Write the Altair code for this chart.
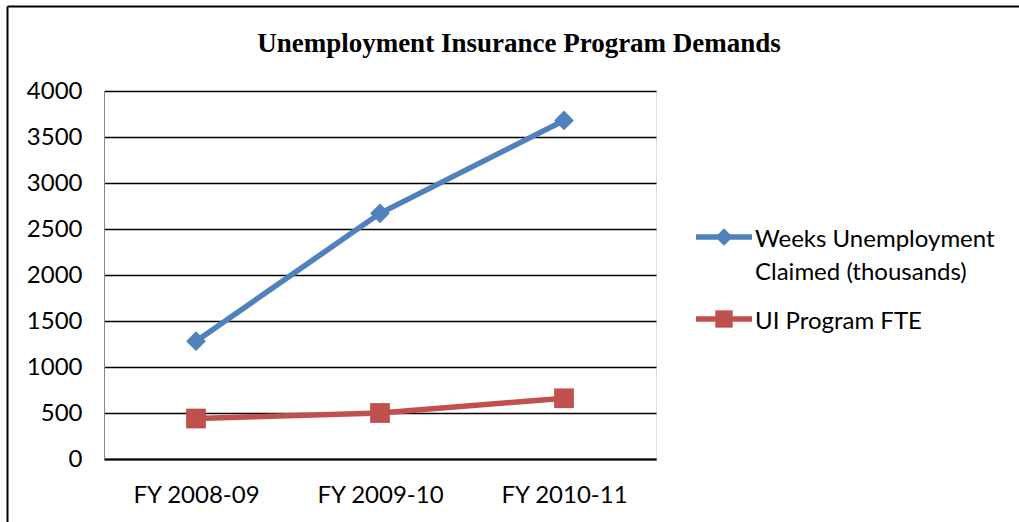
import altair as alt
import pandas as pd

# ---- data ----
categories = ["FY 2008-09", "FY 2009-10", "FY 2010-11"]
weeks_claimed = [1280, 2670, 3680]
ui_fte = [440, 500, 660]
series_names = ["Weeks Unemployment Claimed (thousands)", "UI Program FTE"]
legend_lines = [["Weeks Unemployment", "Claimed (thousands)"], ["UI Program FTE"]]
y_ticks = [0, 500, 1000, 1500, 2000, 2500, 3000, 3500, 4000]
title_text = "Unemployment Insurance Program Demands"

# ---- styles ----
colors = ["#4F81BD", "#C0504D"]
shapes = ["diamond", "square"]
W, H = 552, 368
PAD_L, PAD_T = 104, 91
FONT = "Lato"

rows = []
for cat, a, b in zip(categories, weeks_claimed, ui_fte):
    rows.append({"category": cat, "series": series_names[0], "value": a})
    rows.append({"category": cat, "series": series_names[1], "value": b})
df = pd.DataFrame(rows)

x_enc = alt.X(
    "category:N",
    sort=categories,
    scale=alt.Scale(type="point", padding=0.5),
    axis=alt.Axis(
        title=None, labelAngle=0, ticks=False, grid=False,
        domainColor="#000000", domainWidth=2,
        labelFont=FONT, labelFontSize=24, labelColor="#000000", labelPadding=24,
    ),
)
y_enc = alt.Y(
    "value:Q",
    scale=alt.Scale(domain=[0, 4000], nice=False),
    axis=alt.Axis(
        title=None, values=y_ticks, ticks=False, format="d",
        grid=True, gridColor="#000000", gridWidth=1.5,
        domainColor="#868686", domainWidth=1,
        labelFont=FONT, labelFontSize=24, labelColor="#000000", labelPadding=22,
    ),
)
color_enc = alt.Color(
    "series:N",
    scale=alt.Scale(domain=series_names, range=colors),
    legend=None,
)

base = alt.Chart(df)
lines = base.mark_line(strokeWidth=5.5).encode(x=x_enc, y=y_enc, color=color_enc)
points = base.mark_point(filled=True, opacity=1, size=390).encode(
    x=x_enc, y=y_enc, color=color_enc,
    shape=alt.Shape("series:N", scale=alt.Scale(domain=series_names, range=shapes), legend=None),
)

layers = [lines, points]

# ---- title as a text mark (centred over the whole figure) ----
layers.append(
    alt.Chart(pd.DataFrame({"t": [title_text]})).mark_text(
        align="center", baseline="alphabetic", font="Liberation Serif",
        fontSize=27, fontWeight="bold", color="#000000",
    ).encode(x=alt.value(519 - PAD_L), y=alt.value(52 - PAD_T), text="t:N")
)

# ---- hand-drawn legend (to the right of the plot) ----
legend_sym_y = [146, 228]
legend_txt_y = [137, 219]
for i, name in enumerate(series_names):
    ld = pd.DataFrame({"series": [name]})
    lb = alt.Chart(ld)
    layers.append(
        lb.mark_rule(strokeWidth=5.5, color=colors[i]).encode(
            x=alt.value(592), x2=alt.value(648), y=alt.value(legend_sym_y[i])
        )
    )
    layers.append(
        lb.mark_point(shape=shapes[i], filled=True, opacity=1, size=300, color=colors[i]).encode(
            x=alt.value(620), y=alt.value(legend_sym_y[i])
        )
    )
    layers.append(
        lb.mark_text(align="left", baseline="top", font=FONT, fontSize=24,
                     lineHeight=33, color="#000000").encode(
            x=alt.value(651), y=alt.value(legend_txt_y[i]),
            text=alt.value(legend_lines[i] if len(legend_lines[i]) > 1 else legend_lines[i][0]),
        )
    )

# ---- outer frame (left and top edges) ----
frame = alt.Chart(pd.DataFrame({"f": [0]}))
layers.append(
    frame.mark_rule(color="#000000", strokeWidth=2).encode(
        x=alt.value(7.5 - PAD_L), x2=alt.value(7.5 - PAD_L),
        y=alt.value(6.5 - PAD_T), y2=alt.value(522 - PAD_T),
    )
)
layers.append(
    frame.mark_rule(color="#000000", strokeWidth=2).encode(
        x=alt.value(7.5 - PAD_L), x2=alt.value(1019 - PAD_L),
        y=alt.value(6.5 - PAD_T), y2=alt.value(6.5 - PAD_T),
    )
)

chart = alt.layer(*layers).properties(
    width=W,
    height=H,
    autosize=alt.AutoSizeParams(type="none"),
    padding={"left": PAD_L, "top": PAD_T, "right": 1019 - PAD_L - W, "bottom": 522 - PAD_T - H},
).configure_view(stroke=None).configure(background="#ffffff")

chart.save("out.html", embed_options={"renderer": "svg", "actions": False})
